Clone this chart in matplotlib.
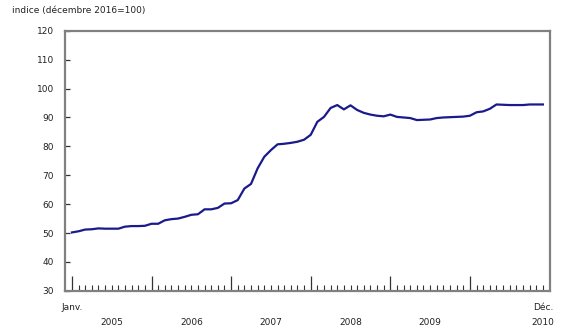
import numpy as np
import matplotlib.pyplot as plt
import matplotlib.transforms as mtransforms

# indice mensuel, janvier 2005 a decembre 2010
values_2005 = [50.2, 50.6, 51.2, 51.3, 51.6, 51.5, 51.5, 51.5, 52.2, 52.4, 52.4, 52.5]
values_2006 = [53.2, 53.2, 54.4, 54.8, 55.0, 55.6, 56.3, 56.5, 58.2, 58.2, 58.7, 60.2]
values_2007 = [60.3, 61.4, 65.4, 67.0, 72.4, 76.4, 78.7, 80.7, 80.9, 81.2, 81.6, 82.3]
values_2008 = [84.0, 88.5, 90.2, 93.3, 94.3, 92.8, 94.2, 92.6, 91.6, 91.0, 90.6, 90.4]
values_2009 = [91.0, 90.2, 90.0, 89.8, 89.1, 89.2, 89.3, 89.8, 90.0, 90.1, 90.2, 90.3]
values_2010 = [90.6, 91.8, 92.1, 93.0, 94.5, 94.4, 94.3, 94.3, 94.3, 94.5, 94.5, 94.5]
years = ["2005", "2006", "2007", "2008", "2009", "2010"]
y_ticks = [30, 40, 50, 60, 70, 80, 90, 100, 110, 120]

values = values_2005 + values_2006 + values_2007 + values_2008 + values_2009 + values_2010
months = np.arange(len(values))

fig = plt.figure(figsize=(5.8, 3.35), dpi=100)
ax = fig.add_axes([0.112, 0.132, 0.836, 0.776])

ax.plot(months, values, color="#1a1a8c", linewidth=1.6, solid_joinstyle="round")

ax.set_xlim(-1.05, 72.05)
ax.set_ylim(30, 120)

for s in ax.spines.values():
    s.set_color("#808080")
    s.set_linewidth(1.6)

ax.set_yticks(y_ticks)
ax.tick_params(axis="y", direction="in", length=3.5, width=0.9, color="#333333",
               labelsize=6.5, pad=8, labelcolor="#222222")

major = [m for m in months if m % 12 == 0]
minor = [m for m in months if m % 12 != 0]
ax.set_xticks(major)
ax.set_xticks(minor, minor=True)
ax.set_xticklabels([])
ax.tick_params(axis="x", which="major", direction="in", length=11, width=0.9, color="#333333")
ax.tick_params(axis="x", which="minor", direction="in", length=4.5, width=0.8, color="#333333")

trans = mtransforms.blended_transform_factory(ax.transData, ax.transAxes)
fs = 6.5
ax.text(0, -0.064, "Janv.", transform=trans, ha="center", va="center", fontsize=fs, color="#222222")
ax.text(71, -0.064, "Déc.", transform=trans, ha="center", va="center", fontsize=fs, color="#222222")
for i, yr in enumerate(years):
    xpos = 12 * i + 6 if i < len(years) - 1 else 71
    ax.text(xpos, -0.121, yr, transform=trans, ha="center", va="center", fontsize=fs, color="#222222")

fig.text(12 / 580, 1 - 10 / 335, "indice (décembre 2016=100)", ha="left", va="center",
         fontsize=fs, color="#222222")

fig.savefig("out.png", dpi=100)
